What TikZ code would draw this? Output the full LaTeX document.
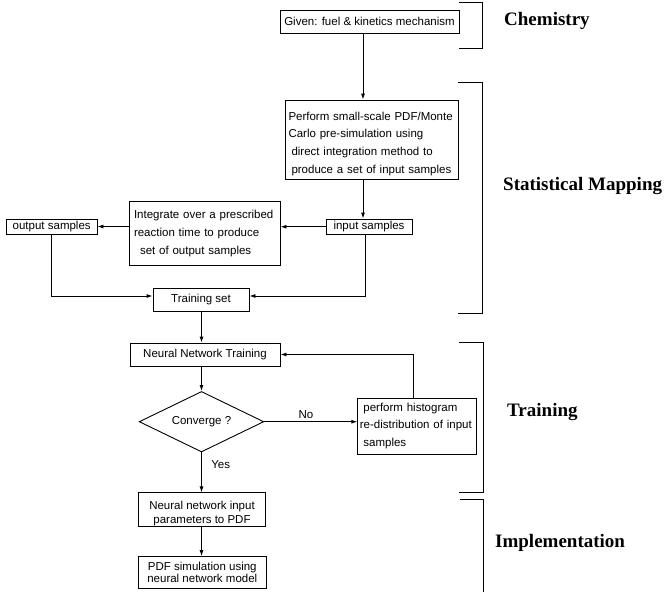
\documentclass[tikz,border=0pt]{standalone}
\usepackage{fontspec}
\setmainfont{Liberation Serif}
\newfontfamily\sansf{Liberation Sans}
\usetikzlibrary{shapes.geometric,arrows.meta,calc}
\begin{document}
\begin{tikzpicture}[x=1pt,y=-1pt,
  box/.style={draw,line width=0.9pt,rectangle,inner sep=0pt,font=\sansf\fontsize{11.5}{17.7}\selectfont},
  arr/.style={line width=0.9pt,-{Latex[length=6pt,width=4pt]}},
  phase/.style={anchor=west,inner sep=0pt,font=\bfseries\fontsize{19}{22}\selectfont},
  lbl/.style={inner sep=0pt,font=\sansf\fontsize{11.5}{14}\selectfont},
  brk/.style={line width=1pt}]
\useasboundingbox[fill=white] (0,0) rectangle (668,592);

% boxes
\node[box,minimum width=179pt,minimum height=22.4pt] (top) at (369.5,21.8) {Given: fuel \& kinetics mechanism};
\node[box,minimum width=173pt,minimum height=79pt,text width=166pt,align=left] (big) at (371.5,139.5)
  {\rule{0pt}{16.5pt}Perform small-scale PDF/Monte\\Carlo pre-simulation using\\\hspace*{3pt}direct integration method to\\\hspace*{3pt}produce a set of input samples};
\node[box,minimum width=86pt,minimum height=15.5pt] (inp) at (369,226.75) {input samples};
\node[box,minimum width=151pt,minimum height=64pt,text width=141pt,align=left] (integ) at (204.5,233.5)
  {Integrate over a prescribed\\reaction time to produce\\\hspace*{6pt}set of output samples};
\node[box,minimum width=90.6pt,minimum height=15pt] (out) at (51.7,226.5) {output samples};
\node[box,minimum width=96pt,minimum height=23pt] (ts) at (201,299.5) {Training set};
\node[box,minimum width=150pt,minimum height=23pt] (nn) at (205,354.5) {Neural Network Training};
\node[draw,diamond,line width=0.9pt,minimum width=124.6pt,minimum height=60.5pt,inner sep=0pt,aspect=2,
  font=\sansf\fontsize{11.5}{14}\selectfont] (dia) at (201.5,421.7) {Converge ?};
\node[box,minimum width=118.3pt,minimum height=56pt,text width=114pt,align=left,
  font=\sansf\fontsize{11.5}{17.5}\selectfont] (hist) at (416.9,426)
  {\hspace*{3.5pt}perform histogram\\re-distribution of input\\\hspace*{3.5pt}samples};
\node[box,minimum width=126.8pt,minimum height=32pt,align=center,font=\sansf\fontsize{11.5}{14}\selectfont] (nnin) at (202,509.6)
  {\rule{0pt}{17pt}Neural network input\\parameters to PDF};
\node[box,minimum width=127.3pt,minimum height=31.3pt,align=center,font=\sansf\fontsize{11.5}{12}\selectfont] (pdf) at (202.3,572.3)
  {PDF simulation using\\neural network model};

% labels
\node[lbl] (no) at (306,415) {No};
\node[lbl] (yes) at (220.7,465) {Yes};

% phase labels
\node[phase] (chem) at (504,21) {Chemistry};
\node[phase] (stat) at (503,186) {Statistical Mapping};
\node[phase] (train) at (507,412) {Training};
\node[phase] (impl) at (495,543) {Implementation};

% brackets
\draw[brk] (459,2) -- (482,2) -- (482,48) -- (459,48);
\draw[brk] (458,82) -- (482,82) -- (482,313) -- (458,313);
\draw[brk] (459,342) -- (483,342) -- (483,492) -- (459,492);
\draw[brk] (460,499) -- (483,499) -- (483,592);

% helper coordinates
\coordinate (ax) at (363,0);
\coordinate (ix) at (365,0);
\coordinate (vx) at (201.5,0);
\coordinate (fx) at (413,0);

% connectors
\draw[arr] (top.south -| ax) -- (big.north -| ax);
\draw[arr] (big.south -| ax) -- (inp.north -| ax);
\draw[arr] (inp.west) -- (inp.west -| integ.east);
\draw[arr] (integ.west |- out.east) -- (out.east);
\draw[arr] (out.south) |- ([yshift=3.5pt]ts.west);
\draw[arr] (inp.south -| ix) |- ([yshift=3.5pt]ts.east);
\draw[arr] (ts.south -| vx) -- (nn.north -| vx);
\draw[arr] (nn.south -| vx) -- (dia.north);
\draw[arr] (dia.east) -- (dia.east -| hist.west);
\draw[arr] (hist.north -| fx) |- (nn.east);
\draw[arr] (dia.south) -- (nnin.north -| dia.south);
\draw[arr] (nnin.south -| vx) -- (pdf.north -| vx);
\end{tikzpicture}
\end{document}
